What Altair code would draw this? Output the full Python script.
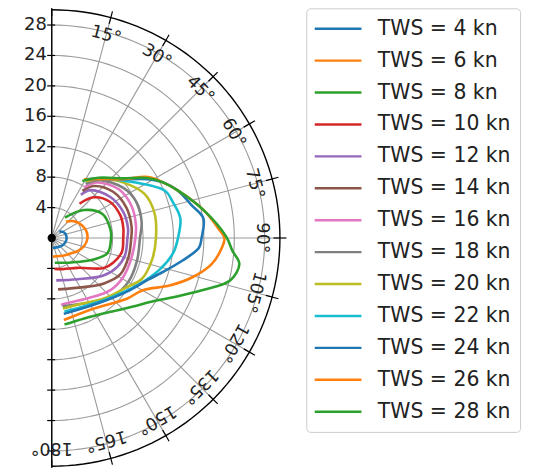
import altair as alt
import numpy as np
import pandas as pd

# ---------------- data ----------------
TWS = [4, 6, 8, 10, 12, 14, 16, 18, 20, 22, 24, 26, 28]
COLORS = ["#1f77b4", "#ff7f0e", "#2ca02c", "#d62728", "#9467bd", "#8c564b",
          "#e377c2", "#7f7f7f", "#bcbd22", "#17becf", "#1f77b4", "#ff7f0e", "#2ca02c"]
LABELS = [f"TWS = {t} kn" for t in TWS]

TWA_4 = [50, 62, 75, 90, 105, 120, 140, 160, 174]
BSP_4 = [1.3, 1.7, 1.9, 1.95, 1.9, 1.75, 1.5, 1.35, 1.3]
TWA_6 = [41, 52, 62, 76, 90, 104, 115, 125, 140, 156, 176]
BSP_6 = [2.85, 3.6, 4.1, 4.6, 4.7, 4.4, 3.9, 3.4, 2.9, 2.6, 2.45]
TWA_8 = [33, 49, 65, 82, 90, 105, 117, 141, 158, 173]
BSP_8 = [3.2, 5.6, 7.4, 7.8, 7.8, 7.6, 6.2, 4.13, 3.5, 3.27]
TWA_10 = [39, 46, 58, 72, 82, 90, 101, 112, 120, 139, 160, 175]
BSP_10 = [5.8, 7.7, 9.0, 9.5, 9.5, 9.4, 9.4, 8.7, 7.9, 5.2, 4.35, 4.1]
TWA_12 = [34, 39, 55, 70, 83, 90, 103, 114, 126, 148, 174]
BSP_12 = [6.85, 8.1, 9.4, 10.0, 10.1, 9.95, 9.9, 9.4, 8.4, 6.4, 5.6]
TWA_14 = [33, 39, 53, 68, 82, 90, 104, 118, 131, 147, 173]
BSP_14 = [7.4, 8.8, 10.1, 10.6, 10.6, 10.45, 10.4, 10.2, 9.1, 7.7, 6.8]
TWA_16 = [32.6, 39, 54, 68, 81, 90, 104, 119, 132, 150, 169, 172]
BSP_16 = [7.9, 9.4, 10.9, 11.3, 11.2, 11.0, 10.8, 10.7, 10.3, 9.2, 8.8, 8.9]
TWA_18 = [32, 40, 55, 67, 80, 90, 105, 120, 133, 150, 171]
BSP_18 = [8.4, 9.9, 11.5, 12.1, 12.0, 11.6, 11.6, 11.6, 11.1, 9.8, 9.1]
TWA_20 = [31, 41.5, 51.5, 64.6, 76.6, 90, 102, 114.5, 123.2, 139.3, 158.9, 171]
BSP_20 = [8.7, 10.3, 11.8, 13.5, 13.9, 13.7, 13.5, 13.0, 11.8, 10.5, 9.4, 9.4]
TWA_22 = [28.8, 40, 52, 67.2, 73.4, 81.3, 90, 96.9, 106.2, 118.6, 135.6, 152.4, 170.2]
BSP_22 = [8.8, 10.1, 12.2, 16.1, 16.6, 17.1, 16.6, 16.1, 14.8, 12.9, 11.0, 10.0, 9.8]
TWA_24 = [28.8, 40, 50, 58.5, 63.2, 69.3, 76.9, 82.6, 90, 93.8, 99.9, 108.5, 113.4, 125.8, 145.2, 171]
BSP_24 = [8.8, 10.1, 12.0, 14.8, 16.3, 17.7, 18.9, 20.1, 19.7, 19.4, 17.4, 14.9, 13.8, 12.1, 10.5, 10.1]
TWA_26 = [28.8, 40, 50, 57.7, 63.2, 69.3, 79.6, 86.6, 90, 93.3, 99.3, 105.6, 112, 119.8, 129, 149, 171.6]
BSP_26 = [8.8, 10.1, 12.0, 15.0, 16.3, 17.7, 20.3, 21.9, 22.7, 22.4, 21.3, 19.2, 16.7, 13.8, 12.7, 10.8, 10.9]
TWA_28 = [28.2, 37.7, 50, 57.8, 63.2, 69.3, 79.6, 89.4, 94, 97.9, 103.4, 109.2, 115.4, 123.1, 130.1, 141.5, 158, 171.6]
BSP_28 = [8.5, 10.0, 12.2, 14.8, 16.3, 17.7, 20.3, 22.9, 23.8, 24.9, 24.1, 20.9, 18.0, 15.4, 14.0, 12.4, 11.4, 11.5]

CURVES = [(TWA_4, BSP_4), (TWA_6, BSP_6), (TWA_8, BSP_8), (TWA_10, BSP_10),
          (TWA_12, BSP_12), (TWA_14, BSP_14), (TWA_16, BSP_16), (TWA_18, BSP_18),
          (TWA_20, BSP_20), (TWA_22, BSP_22), (TWA_24, BSP_24), (TWA_26, BSP_26),
          (TWA_28, BSP_28)]

RADIAL_TICKS = [4, 8, 12, 16, 20, 24, 28]
ANGLE_TICKS = [0, 15, 30, 45, 60, 75, 90, 105, 120, 135, 150, 165, 180]
ANGLE_LABELS = [15, 30, 45, 60, 75, 90, 105, 120, 135, 150, 165, 180]
R_MAX = 30
R_LABEL = 27.6

# ---------------- tables ----------------
rows = []
for lab, (twa, bsp) in zip(LABELS, CURVES):
    for a, r in zip(twa, bsp):
        rows.append({"label": lab, "a": a, "r": r})
curves_df = pd.DataFrame(rows)

circ_angles = np.arange(0, 181, 2)
grid_df = pd.DataFrame([{"r": r, "a": float(a)} for r in RADIAL_TICKS for a in circ_angles])
outer_df = pd.DataFrame([{"r": R_MAX, "a": float(a)} for a in circ_angles])
spoke_df = pd.DataFrame({"a": ANGLE_TICKS, "r0": 0.0, "r1": float(R_MAX)})
otick_df = pd.DataFrame({"a": ANGLE_TICKS, "r0": R_MAX - 0.85, "r1": R_MAX + 0.85})
rtick_df = pd.DataFrame({"v": RADIAL_TICKS + [-t for t in RADIAL_TICKS]})
rlab_df = pd.DataFrame({"v": RADIAL_TICKS, "t": [str(t) for t in RADIAL_TICKS]})
alab_df = pd.DataFrame({"a": ANGLE_LABELS, "r": R_LABEL, "t": [f"{a}°" for a in ANGLE_LABELS]})
spine_df = pd.DataFrame({"r": [R_MAX]})
dot_df = pd.DataFrame({"r": [0.0], "a": [0.0]})

# ---------------- scales ----------------
PX = 7.65
W, H = 480, 460
xs = alt.Scale(domain=[0, W / PX], nice=False, zero=False)
ys = alt.Scale(domain=[-H / 2 / PX, H / 2 / PX], nice=False, zero=False)
FONT = "DejaVu Sans"
TXT = "#222222"
GRID = "#9a9a9a"

XY = "datum.r*sin(datum.a*PI/180)"
YY = "datum.r*cos(datum.a*PI/180)"


def X(f="x"):
    return alt.X(f"{f}:Q", scale=xs, axis=None)


def Y(f="y"):
    return alt.Y(f"{f}:Q", scale=ys, axis=None)


grid = alt.Chart(grid_df).transform_calculate(x=XY, y=YY).mark_line(
    color=GRID, strokeWidth=1.1
).encode(x=X(), y=Y(), detail="r:N", order="a:Q")

spokes = alt.Chart(spoke_df).transform_calculate(
    x="datum.r0*sin(datum.a*PI/180)", y="datum.r0*cos(datum.a*PI/180)",
    x2="datum.r1*sin(datum.a*PI/180)", y2="datum.r1*cos(datum.a*PI/180)"
).mark_rule(color=GRID, strokeWidth=1.1).encode(
    x=X(), y=Y(), x2="x2:Q", y2="y2:Q")

outer = alt.Chart(outer_df).transform_calculate(x=XY, y=YY).mark_line(
    color="black", strokeWidth=1.4
).encode(x=X(), y=Y(), order="a:Q")

spine = alt.Chart(spine_df).transform_calculate(
    x="0", y="-datum.r", y2="datum.r"
).mark_rule(color="black", strokeWidth=1.4).encode(x=X(), y=Y(), y2="y2:Q")

oticks = alt.Chart(otick_df).transform_calculate(
    x="datum.r0*sin(datum.a*PI/180)", y="datum.r0*cos(datum.a*PI/180)",
    x2="datum.r1*sin(datum.a*PI/180)", y2="datum.r1*cos(datum.a*PI/180)"
).mark_rule(color="black", strokeWidth=1.2).encode(
    x=X(), y=Y(), x2="x2:Q", y2="y2:Q")

rticks = alt.Chart(rtick_df).transform_calculate(
    x="-0.6", x2="0.45", y="datum.v"
).mark_rule(color="black", strokeWidth=1.2).encode(x=X(), y=Y(), x2="x2:Q")

rlabels = alt.Chart(rlab_df).transform_calculate(x="0", y="datum.v").mark_text(
    align="right", baseline="middle", dx=-5, font=FONT, fontSize=18, color=TXT
).encode(x=X(), y=Y(), text="t:N")

alabels = alt.Chart(alab_df).transform_calculate(x=XY, y=YY).mark_text(
    align="center", baseline="middle", font=FONT, fontSize=17.5, color=TXT
).encode(x=X(), y=Y(), text="t:N", angle=alt.Angle("a:Q", scale=None))

lines = alt.Chart(curves_df).transform_calculate(x=XY, y=YY).mark_line(
    strokeWidth=2.6, interpolate="catmull-rom"
).encode(
    x=X(), y=Y(), order="a:Q",
    color=alt.Color(
        "label:N",
        scale=alt.Scale(domain=LABELS, range=COLORS),
        sort=LABELS,
        legend=alt.Legend(
            orient="none", legendX=256, legendY=-1, title=None,
            labelFont=FONT, labelFontSize=20.5, labelColor=TXT, labelLimit=400,
            symbolType="M-1.2,0L3.5,0", symbolSize=400, symbolStrokeWidth=2.4,
            labelOffset=40, rowPadding=10.1, padding=9,
            strokeColor="#cccccc", cornerRadius=4, fillColor="white",
        ),
    ),
)

dot = alt.Chart(dot_df).transform_calculate(x=XY, y=YY).mark_circle(
    color="black", size=70, opacity=1
).encode(x=X(), y=Y())

chart = alt.layer(
    grid, spokes, outer, spine, oticks, rticks, rlabels, alabels, lines, dot
).properties(
    width=W, height=H,
    autosize=alt.AutoSizeParams(type="none"),
    padding={"left": 44, "top": 0, "right": 0, "bottom": 0},
    background="white",
).configure_view(stroke=None)

chart.save("out.html", embed_options={"renderer": "svg", "actions": False})
